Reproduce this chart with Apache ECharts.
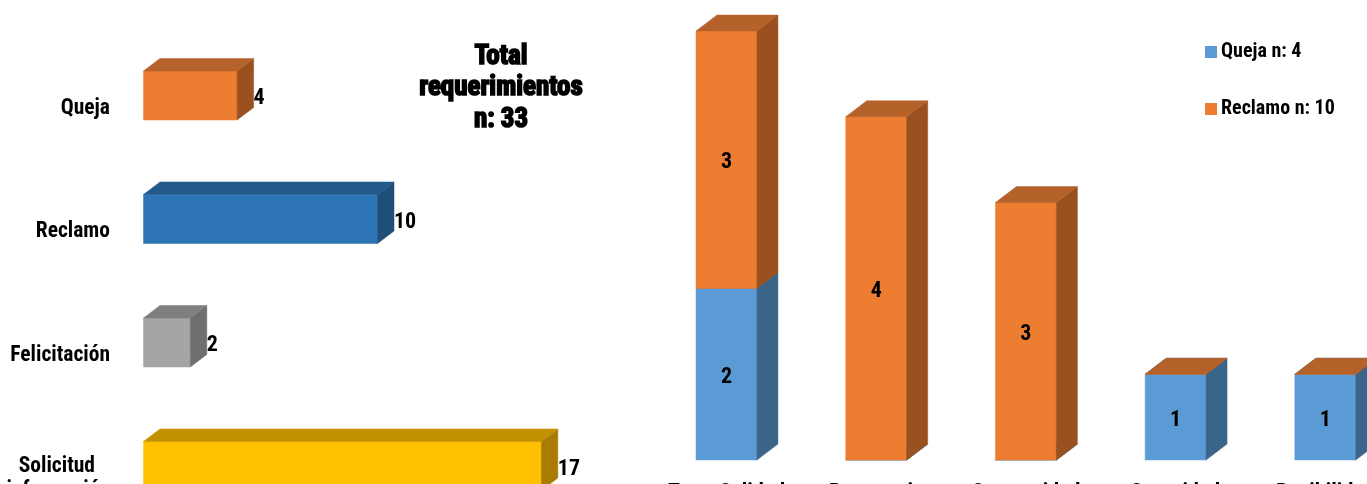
<!DOCTYPE html>
<html>
<head>
<meta charset="utf-8">
<style>html,body{margin:0;padding:0;background:#fff;overflow:hidden}#c{width:1367px;height:484px}</style>
<script src="https://cdn.jsdelivr.net/npm/echarts@6/dist/echarts.min.js"></script>
</head>
<body>
<div id="c"></div>
<script>
const leftCategories = ['Queja', 'Reclamo', 'Felicitación', 'Solicitud\ninformación'];
const leftValues = [4, 10, 2, 17];
const rightCategories = ['Trato Calidad', 'Burocracia', 'Oportunidad', 'Seguridad', 'Posibilidad'];
const quejaValues = [2, 0, 0, 1, 1];
const reclamoValues = [3, 4, 3, 0, 0];
const quejaName = 'Queja n: 4';
const reclamoName = 'Reclamo n: 10';
const totalTitle = 'Total\nrequerimientos\nn: 33';

const FONT = '"Liberation Sans Narrow","Roboto Condensed",Roboto,sans-serif';
const leftPalette = [
  { front: '#ED7D31', top: '#B5612A', side: '#9A511F' },
  { front: '#2E75B6', top: '#225A8C', side: '#1F4E79' },
  { front: '#A5A5A5', top: '#7F7F7F', side: '#6E6E6E' },
  { front: '#FFC000', top: '#C29100', side: '#A87C00' }
];
const bluePalette = { front: '#5B9BD5', top: '#46779F', side: '#3B6489' };
const orangePalette = { front: '#ED7D31', top: '#B5612A', side: '#9A511F' };

function box(x0, x1, y0, y1, dx, dy, c) {
  const faces = [
    { pts: [[x0, y0], [x1, y0], [x1, y1], [x0, y1]], fill: c.front },
    { pts: [[x1, y0], [x1 + dx, y0 - dy], [x1 + dx, y1 - dy], [x1, y1]], fill: c.side },
    { pts: [[x0, y0], [x0 + dx, y0 - dy], [x1 + dx, y0 - dy], [x1, y0]], fill: c.top }
  ];
  return faces.map(f => ({
    type: 'polygon', silent: true,
    shape: { points: f.pts },
    style: { fill: f.fill, stroke: f.fill, lineWidth: 0.5 }
  }));
}
function valueText(text, x, y, align) {
  return {
    type: 'text', silent: true, z2: 10,
    style: { text: String(text), x, y, align, verticalAlign: 'middle',
      fontFamily: FONT, fontWeight: 'bold', fontSize: 22, fill: '#000' }
  };
}

function renderLeft(params, api) {
  const idx = api.value(0), v = api.value(1);
  const a = api.coord([0, idx]), b = api.coord([v, idx]);
  const h = api.size([0, 1])[1] * 0.397;
  const dx = 16.5, dy = 12.5;
  const kids = box(a[0], b[0], a[1] - h / 2, a[1] + h / 2, dx, dy, leftPalette[idx]);
  kids.push(valueText(v, b[0] + dx, a[1] + 3, 'left'));
  return { type: 'group', children: kids };
}
function stackRender(palette) {
  return function (params, api) {
    const idx = api.value(0), start = api.value(1), end = api.value(2);
    const a = api.coord([idx, start]), b = api.coord([idx, end]);
    const w = api.size([1, 0])[0] * 0.407;
    const dx = 21, dy = 16;
    const kids = box(a[0] - w / 2, a[0] + w / 2, b[1], a[1], dx, dy, palette);
    if (end > start) kids.push(valueText(end - start, a[0], (a[1] + b[1]) / 2 + 3, 'center'));
    return { type: 'group', children: kids };
  };
}

const leftData = leftValues.map((v, i) => [i, v]);
const quejaData = quejaValues.map((v, i) => [i, 0, v]);
const reclamoData = reclamoValues.map((v, i) => [i, quejaValues[i], quejaValues[i] + v]);

const chart = echarts.init(document.getElementById('c'), null, { renderer: 'canvas' });
chart.setOption({
  animation: false,
  backgroundColor: '#fff',
  title: {
    text: totalTitle, left: 496, top: 36, textAlign: 'center',
    textStyle: { fontFamily: FONT, fontWeight: 'bold', fontSize: 27, lineHeight: 31.5,
      color: '#000', textBorderColor: '#000', textBorderWidth: 1.6 }
  },
  legend: {
    data: [
      { name: quejaName, itemStyle: { color: bluePalette.front } },
      { name: reclamoName, itemStyle: { color: orangePalette.front } }
    ],
    orient: 'vertical', left: 1205, top: 42, itemWidth: 12, itemHeight: 12, itemGap: 37,
    padding: 0, icon: 'rect', selectedMode: false,
    textStyle: { fontFamily: FONT, fontWeight: 'bold', fontSize: 20, color: '#000', padding: [0, 0, 0, -1] }
  },
  grid: [
    { left: 143.5, top: 33.75, width: 468, height: 494, outerBoundsMode: 'none', containLabel: false },
    { left: 651.65, top: 31, width: 748.5, height: 429, outerBoundsMode: 'none', containLabel: false }
  ],
  xAxis: [
    { gridIndex: 0, type: 'value', min: 0, max: 20, show: false },
    { gridIndex: 1, type: 'category', data: rightCategories,
      axisLine: { show: false }, axisTick: { show: false },
      axisLabel: { margin: 22, interval: 0, hideOverlap: false, fontFamily: FONT, fontWeight: 'bold', fontSize: 22, color: '#000' } }
  ],
  yAxis: [
    { gridIndex: 0, type: 'category', inverse: true, data: leftCategories,
      axisLine: { show: false }, axisTick: { show: false },
      axisLabel: { margin: 33.5, interval: 0, hideOverlap: false, fontFamily: FONT, fontWeight: 'bold', fontSize: 21.5, lineHeight: 24, color: '#000',
        padding: [26, 0, 0, 0],
        formatter: v => {
          const parts = v.split('\n');
          return parts.length > 1 ? `{s|${parts[0]}}\n{p|${parts[1]}}` : `{p|${v}}`;
        },
        rich: {
          s: { fontFamily: FONT, fontWeight: 'bold', fontSize: 21.5, lineHeight: 24, color: '#000', padding: [0, 15, 0, 0] },
          p: { fontFamily: FONT, fontWeight: 'bold', fontSize: 21.5, lineHeight: 24, color: '#000' }
        } } },
    { gridIndex: 1, type: 'value', min: 0, max: 5, interval: 1, show: false }
  ],
  series: [
    { type: 'custom', name: 'Total', xAxisIndex: 0, yAxisIndex: 0, renderItem: renderLeft,
      encode: { x: 1, y: 0 }, data: leftData },
    { type: 'custom', name: quejaName, xAxisIndex: 1, yAxisIndex: 1, renderItem: stackRender(bluePalette),
      itemStyle: { color: bluePalette.front }, encode: { x: 0, y: [1, 2] }, data: quejaData },
    { type: 'custom', name: reclamoName, xAxisIndex: 1, yAxisIndex: 1, renderItem: stackRender(orangePalette),
      itemStyle: { color: orangePalette.front }, encode: { x: 0, y: [1, 2] }, data: reclamoData }
  ]
});
</script>
</body>
</html>
